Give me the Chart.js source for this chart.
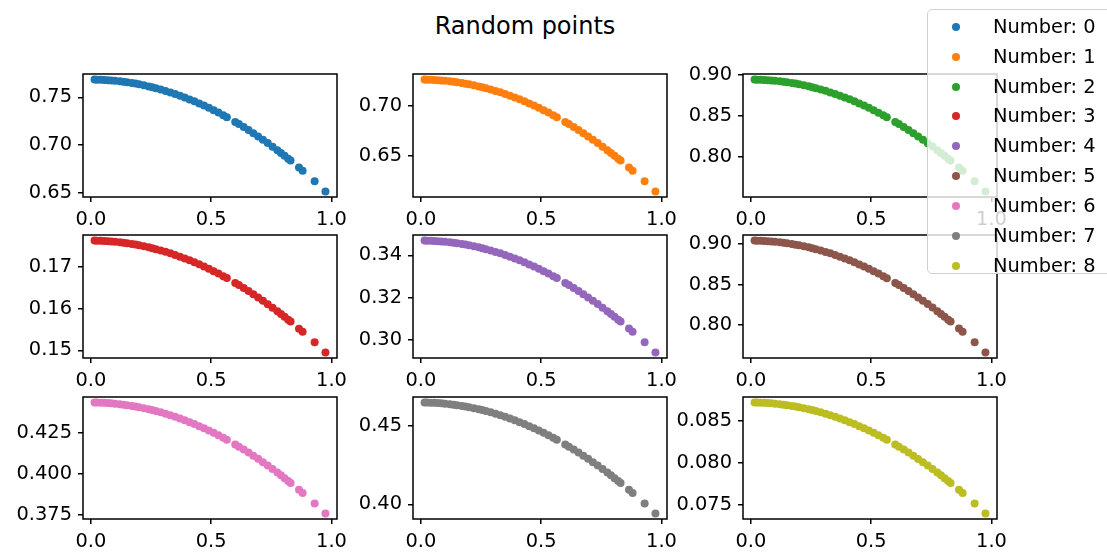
<!DOCTYPE html>
<html>
<head>
<meta charset="utf-8">
<script src="https://cdn.jsdelivr.net/npm/chart.js@4.4.1/dist/chart.umd.min.js"></script>
<style>
html, body { margin: 0; padding: 0; background: #fff; }
body { width: 1107px; height: 552px; overflow: hidden; position: relative; font-family: "DejaVu Sans", sans-serif; }
canvas { position: absolute; }
#title { position: absolute; left: 0; top: 12px; width: 1050px; text-align: center; font-size: 24px; line-height: 28px; color: #000; }
#legend { position: absolute; left: 927px; top: 9px; width: 200px; height: 265px; background: rgba(255,255,255,0.8);
          border: 1px solid #d0d0d0; border-radius: 5px; box-sizing: border-box; z-index: 5; }
.row { position: absolute; left: 0; width: 100%; height: 30px; line-height: 30px; font-size: 19.4px; color: #000; }
.dot { position: absolute; left: 24px; top: 11px; width: 8px; height: 8px; border-radius: 50%; }
.lbl { position: absolute; left: 65px; top: 0; white-space: nowrap; }
</style>
</head>
<body>
<div id="title">Random points</div>
<div id="legend"></div>
<script>
// shared x values
const xValues = [0.015, 0.025, 0.04, 0.055, 0.07, 0.085, 0.1, 0.12, 0.135, 0.15,
                 0.17, 0.185, 0.2, 0.22, 0.24, 0.255, 0.27, 0.29, 0.31, 0.33,
                 0.35, 0.37, 0.39, 0.41, 0.43, 0.45, 0.47, 0.49, 0.51, 0.53,
                 0.55, 0.565, 0.6, 0.615, 0.635, 0.655, 0.675, 0.695, 0.715, 0.735,
                 0.755, 0.775, 0.79, 0.805, 0.82, 0.83, 0.865, 0.88, 0.93, 0.975];

const yNumber0 = [0.7686, 0.7685, 0.7684, 0.7682, 0.7680, 0.7677, 0.7674, 0.7668, 0.7664, 0.7658,
                  0.7650, 0.7644, 0.7637, 0.7627, 0.7615, 0.7606, 0.7596, 0.7583, 0.7568, 0.7552,
                  0.7535, 0.7518, 0.7499, 0.7479, 0.7459, 0.7437, 0.7414, 0.7391, 0.7366, 0.7341,
                  0.7314, 0.7293, 0.7243, 0.7221, 0.7190, 0.7158, 0.7126, 0.7092, 0.7057, 0.7022,
                  0.6985, 0.6947, 0.6919, 0.6889, 0.6859, 0.6839, 0.6766, 0.6734, 0.6622, 0.6517];
const yNumber1 = [0.7256, 0.7255, 0.7254, 0.7252, 0.7250, 0.7248, 0.7244, 0.7239, 0.7235, 0.7230,
                  0.7222, 0.7216, 0.7210, 0.7200, 0.7189, 0.7180, 0.7171, 0.7158, 0.7144, 0.7130,
                  0.7114, 0.7097, 0.7079, 0.7061, 0.7041, 0.7021, 0.7000, 0.6977, 0.6954, 0.6930,
                  0.6905, 0.6885, 0.6838, 0.6817, 0.6788, 0.6758, 0.6727, 0.6695, 0.6663, 0.6629,
                  0.6594, 0.6559, 0.6531, 0.6504, 0.6475, 0.6456, 0.6387, 0.6357, 0.6252, 0.6152];
const yNumber2 = [0.8940, 0.8939, 0.8938, 0.8936, 0.8933, 0.8930, 0.8926, 0.8919, 0.8914, 0.8908,
                  0.8899, 0.8891, 0.8883, 0.8871, 0.8858, 0.8847, 0.8836, 0.8820, 0.8803, 0.8784,
                  0.8765, 0.8744, 0.8722, 0.8700, 0.8676, 0.8650, 0.8624, 0.8597, 0.8568, 0.8538,
                  0.8507, 0.8483, 0.8425, 0.8399, 0.8363, 0.8326, 0.8288, 0.8249, 0.8209, 0.8167,
                  0.8125, 0.8081, 0.8047, 0.8013, 0.7978, 0.7955, 0.7870, 0.7832, 0.7703, 0.7580];
const yNumber3 = [0.17629, 0.17628, 0.17625, 0.17622, 0.17616, 0.17610, 0.17602, 0.17589, 0.17579, 0.17567,
                  0.17549, 0.17533, 0.17517, 0.17494, 0.17467, 0.17447, 0.17424, 0.17393, 0.17359, 0.17323,
                  0.17284, 0.17244, 0.17201, 0.17156, 0.17109, 0.17059, 0.17007, 0.16953, 0.16896, 0.16838,
                  0.16777, 0.16730, 0.16615, 0.16563, 0.16492, 0.16420, 0.16345, 0.16268, 0.16188, 0.16106,
                  0.16022, 0.15936, 0.15870, 0.15802, 0.15733, 0.15687, 0.15519, 0.15446, 0.15190, 0.14949];
const yNumber4 = [0.34699, 0.34697, 0.34691, 0.34683, 0.34673, 0.34660, 0.34645, 0.34620, 0.34599, 0.34575,
                  0.34540, 0.34510, 0.34478, 0.34431, 0.34380, 0.34339, 0.34295, 0.34233, 0.34166, 0.34096,
                  0.34020, 0.33940, 0.33855, 0.33767, 0.33674, 0.33576, 0.33474, 0.33367, 0.33256, 0.33141,
                  0.33021, 0.32928, 0.32701, 0.32600, 0.32461, 0.32318, 0.32170, 0.32018, 0.31862, 0.31701,
                  0.31535, 0.31365, 0.31235, 0.31102, 0.30967, 0.30875, 0.30546, 0.30401, 0.29898, 0.29422];
const yNumber5 = [0.9040, 0.9039, 0.9038, 0.9036, 0.9033, 0.9030, 0.9026, 0.9019, 0.9014, 0.9007,
                  0.8998, 0.8990, 0.8982, 0.8970, 0.8957, 0.8946, 0.8935, 0.8918, 0.8901, 0.8883,
                  0.8863, 0.8842, 0.8820, 0.8797, 0.8773, 0.8747, 0.8721, 0.8693, 0.8664, 0.8634,
                  0.8602, 0.8578, 0.8519, 0.8493, 0.8457, 0.8420, 0.8381, 0.8341, 0.8301, 0.8259,
                  0.8216, 0.8171, 0.8137, 0.8103, 0.8068, 0.8044, 0.7958, 0.7920, 0.7789, 0.7665];
const yNumber6 = [0.44348, 0.44346, 0.44339, 0.44329, 0.44315, 0.44299, 0.44279, 0.44248, 0.44221, 0.44190,
                  0.44145, 0.44107, 0.44066, 0.44007, 0.43941, 0.43889, 0.43833, 0.43753, 0.43668, 0.43577,
                  0.43481, 0.43379, 0.43271, 0.43157, 0.43038, 0.42913, 0.42783, 0.42646, 0.42504, 0.42357,
                  0.42203, 0.42085, 0.41795, 0.41666, 0.41489, 0.41306, 0.41117, 0.40923, 0.40722, 0.40516,
                  0.40305, 0.40088, 0.39921, 0.39752, 0.39579, 0.39462, 0.39040, 0.38855, 0.38213, 0.37604];
const yNumber7 = [0.46498, 0.46495, 0.46488, 0.46478, 0.46464, 0.46446, 0.46426, 0.46393, 0.46364, 0.46333,
                  0.46285, 0.46245, 0.46202, 0.46140, 0.46071, 0.46016, 0.45958, 0.45874, 0.45785, 0.45690,
                  0.45589, 0.45482, 0.45368, 0.45249, 0.45125, 0.44993, 0.44857, 0.44714, 0.44565, 0.44410,
                  0.44249, 0.44125, 0.43822, 0.43686, 0.43500, 0.43308, 0.43110, 0.42907, 0.42696, 0.42481,
                  0.42259, 0.42031, 0.41857, 0.41679, 0.41498, 0.41375, 0.40933, 0.40739, 0.40065, 0.39427];
const yNumber8 = [0.087197, 0.087191, 0.087177, 0.087158, 0.087132, 0.087099, 0.087060, 0.086999, 0.086945, 0.086886,
                  0.086797, 0.086722, 0.086642, 0.086525, 0.086396, 0.086293, 0.086183, 0.086026, 0.085859, 0.085681,
                  0.085491, 0.085290, 0.085078, 0.084854, 0.084621, 0.084375, 0.084118, 0.083850, 0.083571, 0.083281,
                  0.082980, 0.082746, 0.082177, 0.081923, 0.081574, 0.081215, 0.080843, 0.080461, 0.080067, 0.079662,
                  0.079247, 0.078820, 0.078492, 0.078159, 0.077819, 0.077589, 0.076760, 0.076396, 0.075133, 0.073937];

const seriesLabels = ['Number: 0', 'Number: 1', 'Number: 2', 'Number: 3', 'Number: 4',
                      'Number: 5', 'Number: 6', 'Number: 7', 'Number: 8'];
const xTicks = [0.0, 0.5, 1.0];
const yTicks = [[0.65, 0.70, 0.75], [0.65, 0.70], [0.80, 0.85, 0.90],
                [0.15, 0.16, 0.17], [0.30, 0.32, 0.34], [0.80, 0.85, 0.90],
                [0.375, 0.400, 0.425], [0.40, 0.45], [0.075, 0.080, 0.085]];
const yDecimals = [2, 2, 2, 2, 2, 2, 3, 2, 3];

const allSeries = [yNumber0, yNumber1, yNumber2, yNumber3, yNumber4, yNumber5, yNumber6, yNumber7, yNumber8];
const colors = ['#1f77b4', '#ff7f0e', '#2ca02c', '#d62728', '#9467bd', '#8c564b', '#e377c2', '#7f7f7f', '#bcbd22'];

// layout of the 3x3 grid (plot area in page pixels)
const colLeft = [83, 413, 743];
const rowTop = [74, 235, 397];
const rowH = [123, 123, 122];
const axW = 254;
const Y_W = 80, X_H = 40, PAD_T = 26, PAD_R = 24;

function withMargin(vals) {
    const lo = Math.min(...vals), hi = Math.max(...vals), m = (hi - lo) * 0.05;
    return [lo - m, hi + m];
}

// box around the plot area like matplotlib spines
const frame = {
    id: 'frame',
    afterDatasetsDraw(chart) {
        const a = chart.chartArea, c = chart.ctx;
        c.save();
        c.strokeStyle = '#000';
        c.lineWidth = 1.5;
        c.strokeRect(a.left, a.top, a.right - a.left, a.bottom - a.top);
        c.restore();
    }
};

const tickFont = { family: 'DejaVu Sans', size: 19.4 };
const xRange = withMargin(xValues);

allSeries.forEach((ys, k) => {
    const col = k % 3, row = Math.floor(k / 3);
    const canvas = document.createElement('canvas');
    canvas.width = Y_W + axW + PAD_R;
    canvas.height = PAD_T + rowH[row] + X_H;
    canvas.style.left = (colLeft[col] - Y_W) + 'px';
    canvas.style.top = (rowTop[row] - PAD_T) + 'px';
    document.body.appendChild(canvas);

    const yRange = withMargin(ys);
    new Chart(canvas.getContext('2d'), {
        type: 'scatter',
        data: {
            datasets: [{
                label: seriesLabels[k],
                data: xValues.map((x, i) => ({ x: x, y: ys[i] })),
                backgroundColor: colors[k],
                borderWidth: 0,
                pointRadius: 4,
                pointHoverRadius: 4
            }]
        },
        options: {
            responsive: false,
            animation: false,
            layout: { padding: { top: PAD_T, right: PAD_R, left: 0, bottom: 0 } },
            plugins: { legend: { display: false }, tooltip: { enabled: false } },
            scales: {
                x: {
                    type: 'linear',
                    min: xRange[0], max: xRange[1],
                    border: { display: false },
                    grid: { drawOnChartArea: false, drawTicks: true, tickLength: 5, color: '#000', lineWidth: 1.5 },
                    ticks: { font: tickFont, color: '#000', padding: 6, autoSkip: false, maxRotation: 0,
                             callback: v => v.toFixed(1) },
                    afterBuildTicks: axis => { axis.ticks = xTicks.map(v => ({ value: v })); },
                    afterFit: scale => { scale.height = X_H; }
                },
                y: {
                    type: 'linear',
                    min: yRange[0], max: yRange[1],
                    border: { display: false },
                    grid: { drawOnChartArea: false, drawTicks: true, tickLength: 5, color: '#000', lineWidth: 1.5 },
                    ticks: { font: tickFont, color: '#000', padding: 6, autoSkip: false,
                             callback: v => v.toFixed(yDecimals[k]) },
                    afterBuildTicks: axis => { axis.ticks = yTicks[k].map(v => ({ value: v })); },
                    afterFit: scale => { scale.width = Y_W; }
                }
            }
        },
        plugins: [frame]
    });
});

// legend box on the right
const legend = document.getElementById('legend');
seriesLabels.forEach((name, i) => {
    const row = document.createElement('div');
    row.className = 'row';
    row.style.top = (1.7 + 29.9 * i) + 'px';
    const dot = document.createElement('span');
    dot.className = 'dot';
    dot.style.background = colors[i];
    const lbl = document.createElement('span');
    lbl.className = 'lbl';
    lbl.textContent = name;
    row.appendChild(dot);
    row.appendChild(lbl);
    legend.appendChild(row);
});
</script>
</body>
</html>
